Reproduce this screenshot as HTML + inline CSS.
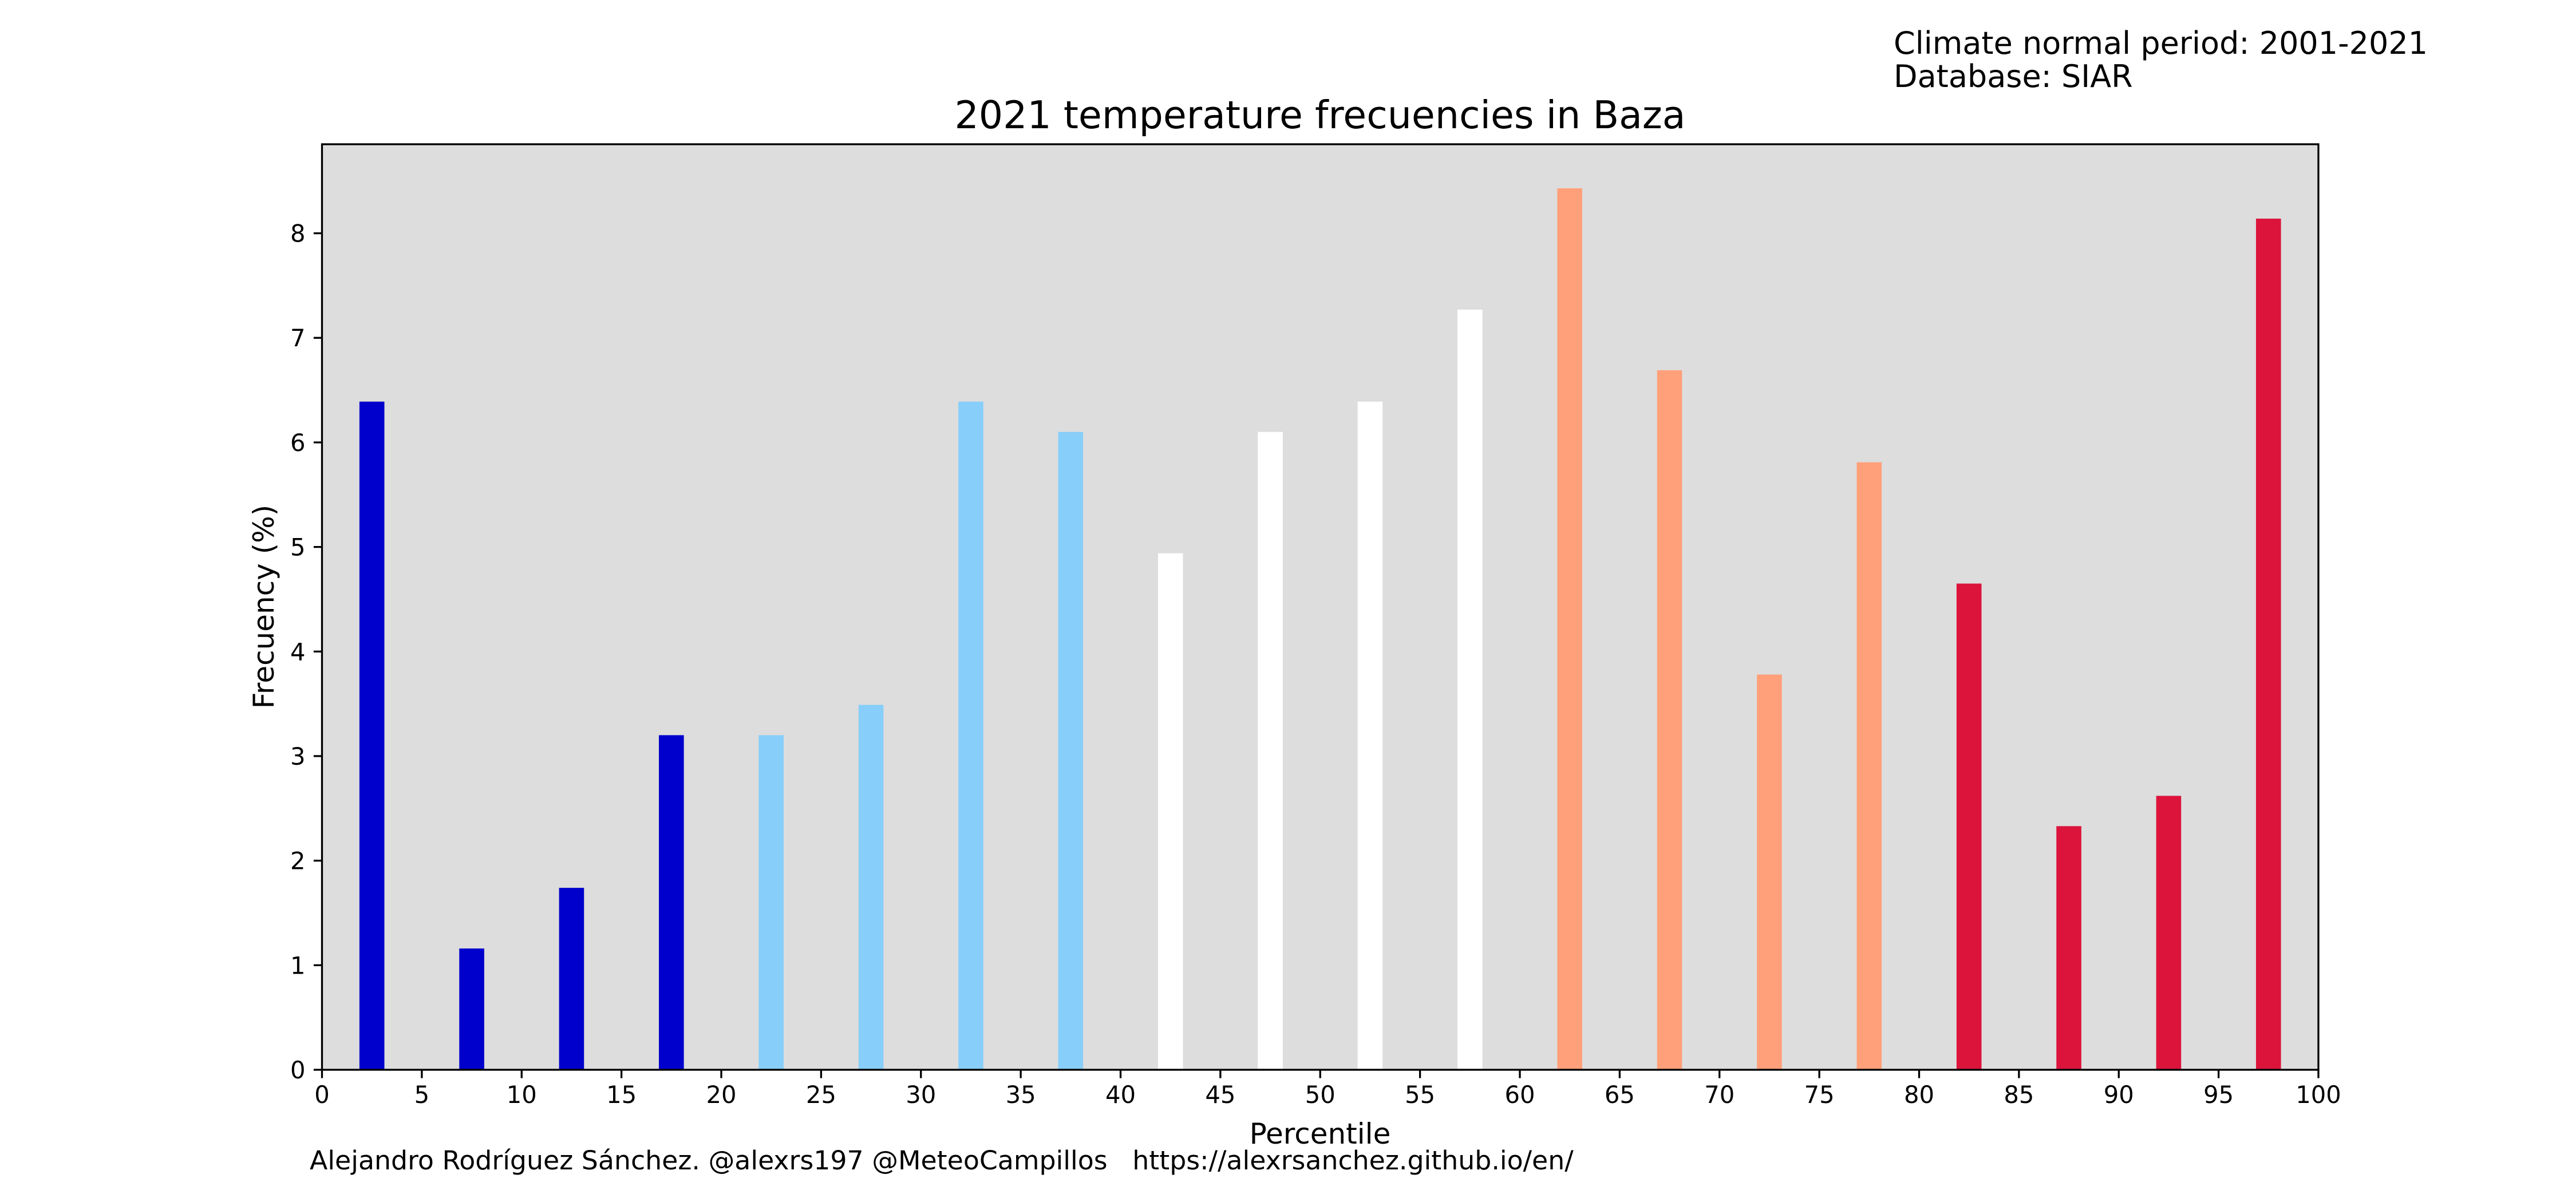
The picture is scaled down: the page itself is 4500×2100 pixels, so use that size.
<!DOCTYPE html>
<html><head><meta charset="utf-8"><style>
html,body{margin:0;padding:0;background:#fff;}
svg{display:block;font-family:"DejaVu Sans","Liberation Sans",sans-serif;}
</style></head><body>
<svg id="chart" width="4500" height="2100" viewBox="0 0 4500 2100" xmlns="http://www.w3.org/2000/svg">
<rect width="4500" height="2100" fill="#fff"/>
<text x="3308" y="94" font-size="54">Climate normal period: 2001-2021</text>
<text x="3308" y="152" font-size="54">Database: SIAR</text>
<text x="2306" y="224" font-size="66.5" text-anchor="middle">2021 temperature frecuencies in Baza</text>
<rect x="562.5" y="252" width="3487.5" height="1617" fill="#dddddd"/>
<g id="bars"></g>
<rect x="562.5" y="252" width="3487.5" height="1617" fill="none" stroke="#000" stroke-width="3.3"/>
<g id="xticks"></g>
<g id="yticks"></g>
<text x="2306" y="1998" font-size="50" text-anchor="middle">Percentile</text>
<text x="478" y="1060" font-size="50" text-anchor="middle" transform="rotate(-90 478 1060)">Frecuency (%)</text>
<text x="541" y="2043" font-size="45.8" xml:space="preserve" style="white-space:pre">Alejandro Rodríguez Sánchez. @alexrs197 @MeteoCampillos   https://alexrsanchez.github.io/en/</text>
</svg>
<script>
const categories = [2.5,7.5,12.5,17.5,22.5,27.5,32.5,37.5,42.5,47.5,52.5,57.5,62.5,67.5,72.5,77.5,82.5,87.5,92.5,97.5];
const values = [6.39,1.16,1.74,3.2,3.2,3.49,6.39,6.1,4.94,6.1,6.39,7.27,8.43,6.69,3.78,5.81,4.65,2.33,2.62,8.14];
const colors = ["#0000cd","#0000cd","#0000cd","#0000cd","#87cefa","#87cefa","#87cefa","#87cefa","#ffffff","#ffffff","#ffffff","#ffffff","#ffa07a","#ffa07a","#ffa07a","#ffa07a","#dc143c","#dc143c","#dc143c","#dc143c"];
const xTicks = [0,5,10,15,20,25,30,35,40,45,50,55,60,65,70,75,80,85,90,95,100];
const yTicks = [0,1,2,3,4,5,6,7,8];
const barWidth = 1.25;

const NS = "http://www.w3.org/2000/svg";
const L=562.5,R=4050,T=252,B=1869;
const xMin=0,xMax=100,yMin=0,yMax=Math.max(...values)*1.05;
const sx=v=>L+(v-xMin)/(xMax-xMin)*(R-L);
const sy=v=>B-(v-yMin)/(yMax-yMin)*(B-T);
function mk(tag,attrs,parent){const e=document.createElementNS(NS,tag);for(const k in attrs)e.setAttribute(k,attrs[k]);parent.appendChild(e);return e;}
const gb=document.getElementById('bars');
categories.forEach((c,i)=>{
  const x0=sx(c-barWidth/2),x1=sx(c+barWidth/2);
  const r=mk('rect',{x:x0,y:sy(values[i]),width:x1-x0,height:sy(0)-sy(values[i]),fill:colors[i]},gb);
  
  
});
const gx=document.getElementById('xticks');
xTicks.forEach(t=>{
  const l=mk('line',{x1:sx(t),x2:sx(t),y1:B,y2:B+14.6,stroke:'#000','stroke-width':3.3},gx);
  
  
  const tx=mk('text',{x:sx(t),y:B+58,'font-size':41.7,'text-anchor':'middle'},gx);
  tx.textContent=t;
  
  
});
const gy=document.getElementById('yticks');
yTicks.forEach(t=>{
  const l=mk('line',{x1:L-14.6,x2:L,y1:sy(t),y2:sy(t),stroke:'#000','stroke-width':3.3},gy);
  
  
  const tx=mk('text',{x:L-29,y:sy(t)+15,'font-size':41.7,'text-anchor':'end'},gy);
  tx.textContent=t;
  
  
});
</script>
</body></html>
